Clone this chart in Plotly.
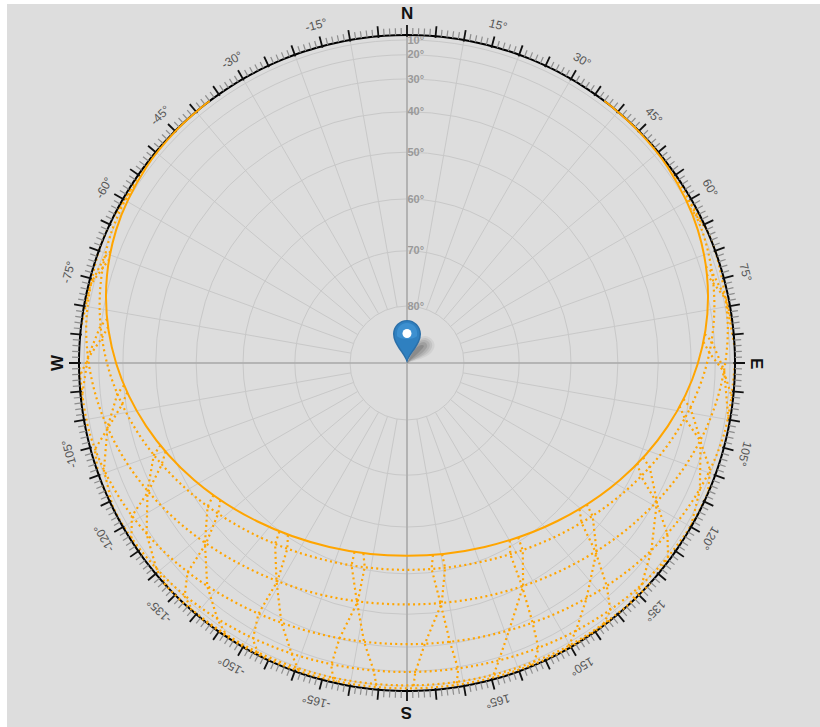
import math
import plotly.graph_objects as go

# ---- sun path day curves: azimuth (deg from north, clockwise), altitude (deg) ----
solid_az = [-37.0, -38.7, -44.7, -53.1, -65.4, -77.6, -90.2, -103.6, -118.8, -136.4, -157.1, 180, 157.1, 136.4, 118.8, 103.6, 90.2, 77.6, 65.4, 53.1, 44.7, 38.7, 37.0]
solid_alt = [0, 0, 2.6, 6.3, 12.8, 20.0, 27.6, 35.1, 42.2, 48.3, 52.5, 54.0, 52.5, 48.3, 42.2, 35.1, 27.6, 20.0, 12.8, 6.3, 2.6, 0, 0]

day1_az = [-46.8, -54.4, -66.9, -79.3, -92.0, -105.6, -120.7, -138.1, -158.1, 180, 158.1, 138.1, 120.7, 105.6, 92.0, 79.3, 66.9, 54.4, 46.8]
day1_alt = [0, 3.6, 10.2, 17.5, 25.0, 32.6, 39.6, 45.5, 49.5, 50.9, 49.5, 45.5, 39.6, 32.6, 25.0, 17.5, 10.2, 3.6, 0]
day2_az = [-66.0, -71.1, -83.8, -96.8, -110.4, -125.3, -141.9, -160.3, 180, 160.3, 141.9, 125.3, 110.4, 96.8, 83.8, 71.1, 66.0]
day2_alt = [0, 2.9, 10.3, 17.9, 25.3, 32.1, 37.6, 41.2, 42.6, 41.2, 37.6, 32.1, 25.3, 17.9, 10.3, 2.9, 0]
day3_az = [-89.8, -102.8, -116.3, -130.6, -146.0, -162.6, 180, 162.6, 146.0, 130.6, 116.3, 102.8, 89.8]
day3_alt = [0, 7.9, 15.1, 21.4, 26.5, 29.8, 31.0, 29.8, 26.5, 21.4, 15.1, 7.9, 0]
day4_az = [-112.0, -121.4, -135.0, -149.4, -164.5, 180, 164.5, 149.4, 135.0, 121.4, 112.0]
day4_alt = [0, 4.9, 10.9, 15.6, 18.6, 19.6, 18.6, 15.6, 10.9, 4.9, 0]
day5_az = [-132.2, -138.3, -151.7, -165.7, 180, 165.7, 151.7, 138.3, 132.2]
day5_alt = [0, 2.7, 6.9, 9.7, 10.6, 9.7, 6.9, 2.7, 0]
day6_az = [-141.3, -152.6, -166.2, 180, 166.2, 152.6, 141.3]
day6_alt = [0, 3.6, 6.3, 7.2, 6.3, 3.6, 0]

# ---- hour lines: east / north position on the sky disc (horizon = 1), two strands each ----
e1a_x = [.079, .075, .102, .131, .156, .152, .141]
e1a_y = [-.585, -.628, -.732, -.851, -.933, -.974, -.984]
e1b_x = [.107, .116, .106, .054, .025, .020, .024]
e1b_y = [-.583, -.624, -.732, -.857, -.944, -.985, -.994]
w1a_x = [-.160, -.169, -.153, -.131, -.101, -.094, -.099]
w1a_y = [-.576, -.617, -.726, -.850, -.939, -.980, -.989]
w1b_x = [-.133, -.129, -.150, -.206, -.231, -.225, -.215]
w1b_y = [-.580, -.622, -.727, -.840, -.921, -.962, -.972]
e2a_x = [.313, .315, .351, .383, .401, .387, .371]
e2a_y = [-.541, -.583, -.681, -.792, -.870, -.913, -.926]
e2b_x = [.339, .353, .354, .311, .279, .263, .262]
e2b_y = [-.532, -.571, -.680, -.816, -.910, -.953, -.962]
w2a_x = [-.389, -.402, -.398, -.383, -.351, -.333, -.332]
w2a_y = [-.514, -.552, -.664, -.792, -.888, -.932, -.940]
w2b_x = [-.363, -.365, -.395, -.453, -.470, -.454, -.439]
w2b_y = [-.524, -.567, -.665, -.765, -.842, -.885, -.898]
e3a_x = [.526, .532, .575, .609, .620, .596, .576]
e3a_y = [-.446, -.487, -.576, -.680, -.754, -.801, -.818]
e3b_x = [.548, .566, .578, .547, .514, .489, .481]
e3b_y = [-.431, -.467, -.574, -.719, -.820, -.868, -.877]
w3a_x = [-.590, -.608, -.616, -.609, -.577, -.549, -.543]
w3a_y = [-.403, -.438, -.549, -.680, -.783, -.832, -.840]
w3b_x = [-.569, -.576, -.613, -.669, -.678, -.652]
w3b_y = [-.418, -.460, -.551, -.638, -.711, -.758]
e4a_x = [.702, .714, .760, .794, .796, .764]
e4a_y = [-.306, -.346, -.424, -.521, -.593, -.645]
e4b_x = [.720, .740, .762, .745, .714, .678]
e4b_y = [-.288, -.319, -.422, -.572, -.681, -.734]
w4a_x = [-.752, -.772, -.791, -.794, -.763, -.727]
w4a_y = [-.251, -.281, -.389, -.521, -.631, -.686]
w4b_x = [-.736, -.748, -.789, -.839, -.840, -.805]
w4b_y = [-.270, -.310, -.392, -.467, -.539, -.593]
e5a_x = [.831, .847, .894, .924, .917]
e5a_y = [-.132, -.169, -.237, -.326, -.398]
e5b_x = [.843, .864, .895, .893, .865]
e5b_y = [-.110, -.137, -.234, -.386, -.501]
w5a_x = [-.863, -.883, -.913, -.924, -.897]
w5a_y = [-.068, -.094, -.196, -.326, -.441]
w5b_x = [-.853, -.869, -.912, -.952, -.942]
w5b_y = [-.090, -.127, -.199, -.264, -.336]
e6a_x = [.904, .922, .966, .992]
e6a_y = [.064, .031, -.026, -.109]
e6b_x = [.908, .929, .967, .980]
e6b_y = [.088, .066, -.023, -.174]
w6a_x = [-.914, -.935, -.973, -.992]
w6a_y = [.134, .112, .018, -.109]
w6b_x = [-.911, -.930, -.972, -1.0]
w6b_y = [.110, .077, .015, -.043]
e7a_x = [.914, .935, .973, .992]
e7a_y = [.270, .242, .194, .116]
e7b_x = [.911, .930, .972, 1.0]
e7b_y = [.294, .277, .197, .050]
w7a_x = [-.904, -.922, -.966, -.992]
w7a_y = [.340, .323, .237, .116]
w7b_x = [-.908, -.929, -.967, -.980]
w7b_y = [.316, .288, .235, .181]
e8a_x = [.863, .883, .913]
e8a_y = [.472, .448, .407]
e8b_x = [.853, .869, .912]
e8b_y = [.494, .481, .410]
w8a_x = [-.831, -.847, -.894]
w8a_y = [.537, .523, .448]
w8b_x = [-.843, -.864, -.895]
w8b_y = [.515, .491, .445]

upper_day_curves = [(day1_az, day1_alt), (day2_az, day2_alt), (day3_az, day3_alt), (day4_az, day4_alt)]
lower_day_curves = [(day5_az, day5_alt), (day6_az, day6_alt)]
hour_strands = [(e1a_x, e1a_y), (e1b_x, e1b_y), (w1a_x, w1a_y), (w1b_x, w1b_y),
                (e2a_x, e2a_y), (e2b_x, e2b_y), (w2a_x, w2a_y), (w2b_x, w2b_y),
                (e3a_x, e3a_y), (e3b_x, e3b_y), (w3a_x, w3a_y), (w3b_x, w3b_y),
                (e4a_x, e4a_y), (e4b_x, e4b_y), (w4a_x, w4a_y), (w4b_x, w4b_y),
                (e5a_x, e5a_y), (e5b_x, e5b_y), (w5a_x, w5a_y), (w5b_x, w5b_y),
                (e6a_x, e6a_y), (e6b_x, e6b_y), (w6a_x, w6a_y), (w6b_x, w6b_y),
                (e7a_x, e7a_y), (e7b_x, e7b_y), (w7a_x, w7a_y), (w7b_x, w7b_y),
                (e8a_x, e8a_y), (e8b_x, e8b_y), (w8a_x, w8a_y), (w8b_x, w8b_y)]

# ---- axis labels ----
altitude_ticks = [10, 20, 30, 40, 50, 60, 70, 80]
azimuth_labels = [15, 30, 45, 60, 75, 105, 120, 135, 150, 165,
                  -15, -30, -45, -60, -75, -105, -120, -135, -150, -165]
compass_labels = [("N", 0), ("E", 90), ("S", 180), ("W", -90)]

ORANGE = "#ffa500"
CX, CY, RING_PX = 407.0, 363.0, 328.0
R_MAX = 1.05


def r_of(alt):
    return math.cos(math.radians(alt))


fig = go.Figure()


def segs(pairs):
    th, rr = [], []
    for t, r0, r1 in pairs:
        th += [t, t, None]
        rr += [r0, r1, None]
    return th, rr


def line(th, rr, color, width, dash=None, shape="linear"):
    fig.add_trace(go.Scatterpolar(theta=th, r=rr, mode="lines", hoverinfo="skip", showlegend=False,
                                  line=dict(color=color, width=width, dash=dash, shape=shape)))


# spokes from 80 degree circle out to the horizon, every 10 degrees
th, rr = segs([(a, r_of(80), 1.0) for a in range(0, 360, 10)])
line(th, rr, "#c8c8c8", 1)
# cardinal cross
th, rr = segs([(a, 0, 1.0) for a in (0, 90, 180, 270)])
line(th, rr, "#aaaaaa", 1.6)

# dotted curves that run under the horizon ring
for az, alt in upper_day_curves:
    line(az, [r_of(a) for a in alt], ORANGE, 2.2, dash="2px,3.2px", shape="spline")
for xs, ys in hour_strands:
    az = [math.degrees(math.atan2(x, y)) for x, y in zip(xs, ys)]
    rr = [min(math.hypot(x, y), 1.0) for x, y in zip(xs, ys)]
    line(az, rr, ORANGE, 2.2, dash="2px,3.2px")

# horizon ring with degree ticks
ring = list(range(0, 361, 2))
line(ring, [1.0] * len(ring), "#000000", 2, shape="spline")
th, rr = segs([(a, 1.0, 1.0 + 7 / RING_PX) for a in range(360) if a % 5])
line(th, rr, "#8c8c8c", 1.2)
th, rr = segs([(a, 0.995, 1.0 + 10 / RING_PX) for a in range(0, 360, 5)])
line(th, rr, "#111111", 1.8)

# lowest day curves and the solid path sit on top of the ring
for az, alt in lower_day_curves:
    line(az, [r_of(a) for a in alt], ORANGE, 2.2, dash="2px,3.2px", shape="spline")
line(solid_az, [r_of(a) for a in solid_alt], ORANGE, 2, shape="spline")

# label positions in the page frame, through a hidden full-page axis pair
annots = []
for a in azimuth_labels:
    t = math.radians(a)
    annots.append(dict(x=CX + 350 * math.sin(t), y=CY - 350 * math.cos(t), xref="x", yref="y",
                       text=f"{a}°", showarrow=False, textangle=a,
                       font=dict(size=12, color="#555555", family="Liberation Sans, Arial")))
for name, a in compass_labels:
    t = math.radians(a)
    annots.append(dict(x=CX + 350 * math.sin(t), y=CY - 350 * math.cos(t), xref="x", yref="y",
                       text=f"<b>{name}</b>", showarrow=False, textangle=a,
                       font=dict(size=17, color="#111111", family="Liberation Sans, Arial")))

PIN = ("M407,363 C404,353 393,345 393,334 C393,326.3 399.3,320 407,320 "
       "C414.7,320 421,326.3 421,334 C421,345 410,353 407,363 Z")
PIN_MID = ("M407,360 C405,352 394.5,344 394.5,334 C394.5,327 400,321.3 407,321.3 "
           "C414,321.3 419.5,327 419.5,334 C419.5,344 409,352 407,360 Z")
PIN_TOP = ("M397,336 C396,328 401,323 407,323 C413,323 418,328 417,336 C414,340 400,340 397,336 Z")
shadow = [
    ("M407,363 C417,360 426,358 431,353 C438,346 434,338 426,336 C417,335 414,346 407,363 Z", .05),
    ("M407,363 C416,359 424,357 429,352 C435,346 432,340 426,338 C418,337 414,346 407,363 Z", .07),
    ("M407,363 C415,359 423,356 427,351 C432,346 430,341 425,340 C418,339 414,347 407,363 Z", .08),
    ("M407,363 C414,358 421,355 425,350 C429,346 427,343 424,342 C418,342 414,348 407,363 Z", .10),
    ("M407,363 C412,358 418,354 422,349 C425,346 424,345 422,345 C417,345 413,351 407,363 Z", .12),
]
shapes = [dict(type="rect", x0=7, x1=820, y0=4, y1=727, xref="x", yref="y", layer="below",
               fillcolor="#dddddd", line=dict(width=0))]
for p, op in shadow:
    shapes.append(dict(type="path", path=p, xref="x", yref="y", fillcolor=f"rgba(0,0,0,{op})",
                       line=dict(width=0), layer="above"))
shapes += [
    dict(type="path", path=PIN, xref="x", yref="y", fillcolor="#2b6fa8", line=dict(width=0), layer="above"),
    dict(type="path", path=PIN_MID, xref="x", yref="y", fillcolor="#2f80c0", line=dict(width=0), layer="above"),
    dict(type="path", path=PIN_TOP, xref="x", yref="y", fillcolor="#3d90d0", line=dict(width=0), layer="above"),
    dict(type="circle", x0=402.5, x1=411.5, y0=329, y1=338, xref="x", yref="y", fillcolor="#ffffff",
         line=dict(width=0), layer="above"),
]

W, H = 820, 727
RP = RING_PX * R_MAX
fig.update_layout(
    width=W, height=H, margin=dict(l=0, r=0, t=0, b=0),
    paper_bgcolor="#ffffff", plot_bgcolor="rgba(0,0,0,0)", showlegend=False,
    xaxis=dict(visible=False, range=[0, W], domain=[0, 1], fixedrange=True),
    yaxis=dict(visible=False, range=[H, 0], domain=[0, 1], fixedrange=True),
    polar=dict(
        domain=dict(x=[(CX - RP) / W, (CX + RP) / W], y=[1 - (CY + RP) / H, 1 - (CY - RP) / H]),
        bgcolor="rgba(0,0,0,0)",
        angularaxis=dict(rotation=90, direction="clockwise", showgrid=False, showline=False,
                         ticks="", showticklabels=False),
        radialaxis=dict(range=[0, R_MAX], angle=90, side="clockwise", showline=False, ticks="",
                        tickvals=[r_of(a) for a in altitude_ticks],
                        ticktext=[f"<b>{a}°</b>" for a in altitude_ticks], tickangle=90,
                        tickfont=dict(size=11, color="#999999", family="Liberation Sans, Arial"),
                        gridcolor="#c8c8c8", gridwidth=1),
    ),
    annotations=annots, shapes=shapes,
)
# anchor the hidden page axes with an invisible trace
fig.add_trace(go.Scatter(x=[0, W], y=[0, H], mode="markers", marker=dict(opacity=0), hoverinfo="skip", showlegend=False))

fig.write_html("out.html", config=dict(displayModeBar=False),
               post_script="document.body.style.margin='0';document.body.style.overflow='hidden';")
